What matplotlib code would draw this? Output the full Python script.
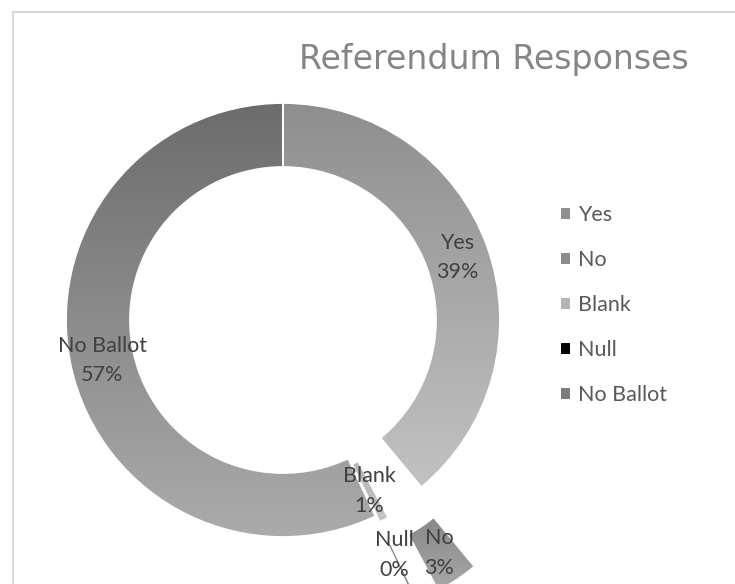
import numpy as np
import matplotlib
matplotlib.use('Agg')
import matplotlib.pyplot as plt
from matplotlib.colors import to_rgb
from matplotlib.patches import Patch
from matplotlib.lines import Line2D

# ---- data ----
categories = ['Yes', 'No', 'Blank', 'Null', 'No Ballot']
values = [39.0, 3.2, 0.7, 0.1, 57.0]
explode = [0.0, 0.44, 0.032, 0.44, 0.0]
grad_top = ['#8e8e8e', '#898989', '#b6b6b6', '#7a7a7a', '#6c6c6c']
grad_bottom = ['#c2c2c2', '#a8a8a8', '#c4c4c4', '#9a9a9a', '#ababab']
legend_colors = ['#8f8f8f', '#8c8c8c', '#b4b4b4', '#000000', '#7c7c7c']
title = 'Referendum Responses'

FONT = 'Lato'
plt.rcParams['font.family'] = [FONT, 'DejaVu Sans']

W, H = 735, 584
cx, cy, R = 283, 320, 217
ring_width = 0.295

fig = plt.figure(figsize=(W / 100, H / 100), dpi=100)
fig.patch.set_facecolor('white')
ax = fig.add_axes([0, 0, 1, 1])

wedges, _ = ax.pie(values, explode=explode, startangle=90, counterclock=False,
                   radius=1.0,
                   wedgeprops=dict(width=ring_width, edgecolor='white', linewidth=1.3))

ax.set_xlim(-cx / R, (W - cx) / R)
ax.set_ylim((cy - H) / R, cy / R)
ax.set_aspect('auto')
ax.axis('off')

# gradient fills clipped to each wedge
for w, ctop, cbot, cat in zip(wedges, grad_top, grad_bottom, categories):
    bb = w.get_path().get_extents(w.get_patch_transform())
    t = np.linspace(0, 1, 256)[:, None]
    c0, c1 = np.array(to_rgb(ctop)), np.array(to_rgb(cbot))
    img = (c0[None, None, :] * (1 - t[..., None]) + c1[None, None, :] * t[..., None])
    im = ax.imshow(img, extent=[bb.x0, bb.x1, bb.y0, bb.y1], origin='upper',
                   aspect='auto', interpolation='bilinear', zorder=0.5)
    im.set_clip_path(w)
    w.set_facecolor('none')
    w.set_zorder(1)
    if cat == 'Null':
        w.set_linewidth(0)
        w.set_edgecolor('none')
        w.set_facecolor('#8a8a8a')

# data labels
total = sum(values)
mid_r = 1 - ring_width / 2
for w, v, cat, ex in zip(wedges, values, categories, explode):
    ang = np.deg2rad((w.theta1 + w.theta2) / 2)
    r = mid_r + ex
    if cat == 'Null':
        r = 1.20
    ax.text(r * np.cos(ang), r * np.sin(ang), f'{cat}\n{round(v / total * 100)}%',
            ha='center', va='center', fontsize=15.5, color='#404040',
            linespacing=1.6, zorder=3)

# title
fig.text(299 / W, 1 - 59 / H, title, ha='left', va='center', fontsize=23.9,
         color='#858585', family=['DejaVu Sans'])

# legend
handles = [Patch(facecolor=c, edgecolor='none') for c in legend_colors]
fig.legend(handles, categories, loc='upper left',
           bbox_to_anchor=(561 / W, 1 - 205 / H), frameon=False, fontsize=15.5,
           labelcolor='#595959', handlelength=0.42, handleheight=0.42,
           handletextpad=0.36, labelspacing=1.165, borderaxespad=0, borderpad=0)

# chart area border
fig.add_artist(Line2D([13 / W, 13 / W, 1.05], [-0.05, 1 - 12 / H, 1 - 12 / H],
                      transform=fig.transFigure, color='#d9d9d9', linewidth=1.5))

fig.savefig('out.png', dpi=100, facecolor='white')
